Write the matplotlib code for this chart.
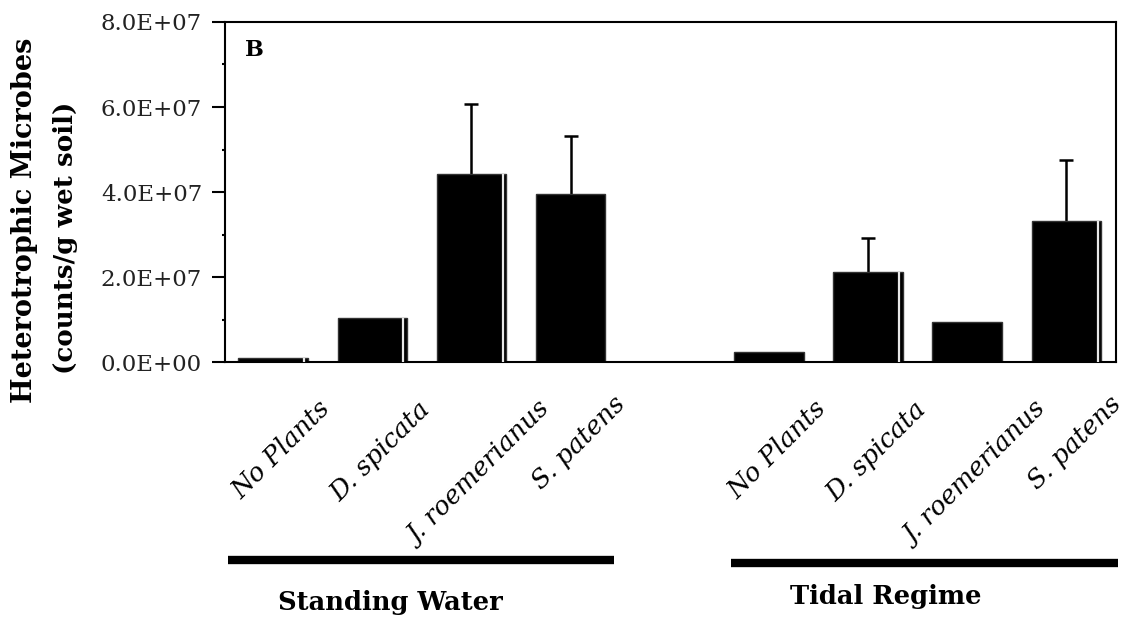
import matplotlib
matplotlib.use('Agg')
import matplotlib.pyplot as plt
import matplotlib.transforms as mtransforms
from matplotlib.ticker import FormatStrFormatter, MultipleLocator
import numpy as np

plt.rcParams['font.family'] = 'DejaVu Serif'

# heterotrophic microbe counts per treatment (counts/g wet soil)
categories = ['No Plants', 'D. spicata', 'J. roemerianus', 'S. patens']
standing = [1.0e6, 1.04e7, 4.43e7, 3.96e7]
standing_err = [0, 0, 1.64e7, 1.36e7]
tidal = [2.4e6, 2.12e7, 9.5e6, 3.31e7]
tidal_err = [0, 0.79e7, 0, 1.44e7]
groups = ['Standing Water', 'Tidal Regime']

pos_sw = np.arange(4)
pos_tr = np.arange(4) + 5
pos = np.concatenate([pos_sw, pos_tr])
vals = np.array(standing + tidal)
errs = np.array(standing_err + tidal_err)

# thin light streak near the right edge of some bars (old plot export look)
streak = [True, True, True, False, False, True, False, True]

fig = plt.figure(figsize=(11.35, 6.23), dpi=100)
ax = fig.add_axes([0.1982, 0.4189, 0.7850, 0.5458])

w = 0.7
ax.bar(pos, vals, width=w, color='black', edgecolor='#333333', linewidth=1.0, zorder=2)
for p, v, s in zip(pos, vals, streak):
    if s:
        ax.vlines(p + w / 2 - 0.035, 0, v, color='#e8e8e8', linewidth=1.6, zorder=3)

# upper error bars only
has_err = errs > 0
_, caps, _ = ax.errorbar(pos[has_err], vals[has_err],
                         yerr=[np.zeros(has_err.sum()), errs[has_err]],
                         fmt='none', ecolor='black', elinewidth=1.8, capsize=5,
                         capthick=1.8, zorder=1)
caps[0].set_visible(False)

ax.set_xlim(-0.485, 8.5)
ax.set_ylim(0, 8e7)
ax.yaxis.set_major_locator(MultipleLocator(2e7))
ax.yaxis.set_minor_locator(MultipleLocator(1e7))
ax.yaxis.set_major_formatter(FormatStrFormatter('%.1E'))
ax.tick_params(axis='y', which='major', direction='out', length=9.5, width=1.5,
               pad=7, labelsize=16.5, labelcolor='#222222')
ax.tick_params(axis='y', which='minor', direction='out', length=2.5, width=1.5)
ax.set_xticks([])
for sp in ax.spines.values():
    sp.set_linewidth(1.5)

ax.text(0.022, 0.918, 'B', transform=ax.transAxes, fontsize=16, fontweight='bold',
        ha='left', va='center')

# y axis title, two separately centred lines
fig.text(0.022, 1 - 220 / 623, 'Heterotrophic Microbes', rotation=90, fontsize=19.5,
         fontweight='bold', ha='center', va='center')
fig.text(0.0573, 1 - 238 / 623, '(counts/g wet soil)', rotation=90, fontsize=18.8,
         fontweight='bold', ha='center', va='center')

# slanted category labels under each bar
trans = mtransforms.blended_transform_factory(ax.transData, ax.transAxes)
label_y = {'No Plants': -0.259, 'D. spicata': -0.262, 'J. roemerianus': -0.329,
           'S. patens': -0.238}
for group_pos in (pos_sw, pos_tr):
    for p, name in zip(group_pos, categories):
        ax.text(p + 0.08, label_y[name], name, transform=trans, rotation=45,
                rotation_mode='anchor', ha='center', va='center', fontsize=18.5,
                style='italic', clip_on=False)

# group bars and titles
spans = [(pos_sw[0] - 0.455, pos_sw[-1] + 0.44), (pos_tr[0] - 0.38, pos_tr[-1] + 0.525)]
line_y = [-0.582, -0.591]
title_y = [-0.729, -0.712]
for gp, (x0, x1), ly, ty, g in zip((pos_sw, pos_tr), spans, line_y, title_y, groups):
    ax.plot([x0, x1], [ly, ly], color='black', linewidth=6, solid_capstyle='butt',
            transform=trans, clip_on=False)
    ax.text(gp[0] + 1.18, ty, g, transform=trans, ha='center', va='baseline',
            fontsize=18.5, fontweight='bold')

fig.savefig('out.png', dpi=100)
